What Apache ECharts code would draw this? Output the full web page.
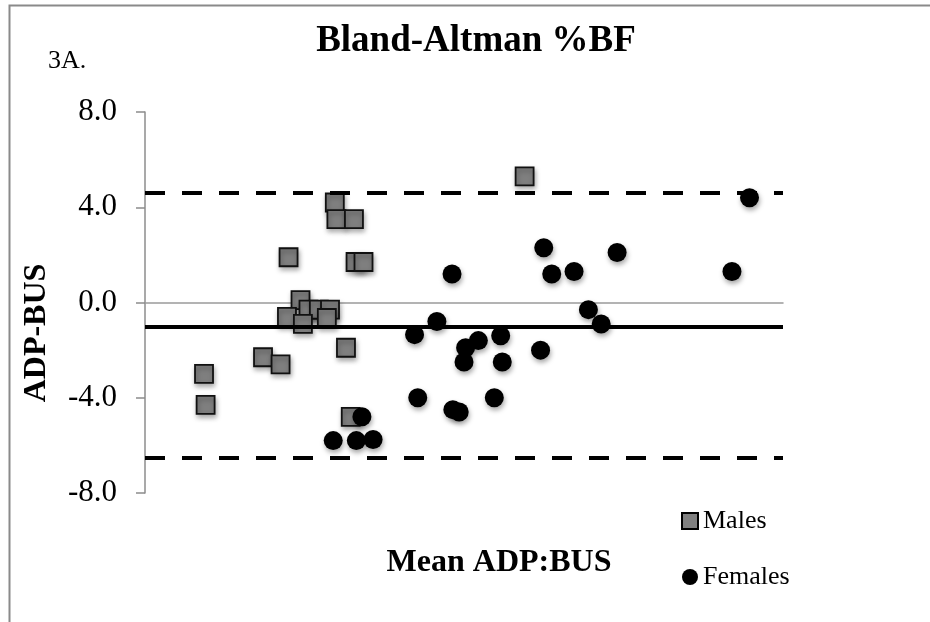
<!DOCTYPE html>
<html>
<head>
<meta charset="utf-8">
<script src="https://cdn.jsdelivr.net/npm/echarts@6/dist/echarts.min.js"></script>
<style>html,body{margin:0;padding:0;background:#fff}#c{width:930px;height:622px}</style>
</head>
<body>
<div id="c"></div>
<script>
// Mean ADP:BUS (x, arbitrary hidden scale) and ADP-BUS difference (y)
var malesX = [11.9, 12.0, 13.1, 9.0, 13.2, 13.7, 9.75, 8.9, 10.25, 10.9, 11.6, 11.4, 9.9, 12.6, 7.4, 8.5, 3.7, 3.8, 12.9, 23.8];
var malesY = [4.2, 3.5, 3.5, 1.9, 1.7, 1.7, 0.1, -0.6, -0.3, -0.3, -0.3, -0.65, -0.9, -1.9, -2.3, -2.6, -3.0, -4.3, -4.8, 5.3];
var femalesX = [37.9, 25.0, 29.6, 19.25, 25.5, 26.9, 36.8, 27.8, 18.3, 28.6, 16.9, 22.3, 20.9, 20.1, 20.0, 22.4, 24.8, 17.1, 19.3, 19.7, 21.9, 13.6, 11.8, 13.25, 14.3];
var femalesY = [4.4, 2.3, 2.1, 1.2, 1.2, 1.3, 1.3, -0.3, -0.8, -0.9, -1.35, -1.4, -1.6, -1.9, -2.5, -2.5, -2.0, -4.0, -4.5, -4.6, -4.0, -4.8, -5.8, -5.8, -5.75];
var meanDiff = -1.0;
var upperLoA = 4.6;
var lowerLoA = -6.5;
var yTicks = [-8, -4, 0, 4, 8];

function pairs(xs, ys) { return xs.map(function (x, i) { return [x, ys[i]]; }); }

var serif = '"Liberation Serif", "DejaVu Serif", serif';
var chart = echarts.init(document.getElementById('c'), null, { renderer: 'canvas' });
chart.setOption({
  animation: false,
  backgroundColor: '#fff',
  grid: { left: 145, right: 147, top: 112, bottom: 129, containLabel: false },
  xAxis: {
    type: 'value', min: 0, max: 40,
    axisLine: { show: true, onZero: true, lineStyle: { color: '#9a9a9a', width: 1.5 } },
    axisTick: { show: false }, axisLabel: { show: false }, splitLine: { show: false }
  },
  yAxis: {
    type: 'value', min: yTicks[0], max: yTicks[yTicks.length - 1], interval: 4,
    axisLine: { show: true, onZero: false, lineStyle: { color: '#8c8c8c', width: 1.5 } },
    axisTick: { show: true, inside: false, length: 9, lineStyle: { color: '#8c8c8c', width: 1.5 } },
    axisLabel: { margin: 28, color: '#000', fontFamily: serif, fontSize: 31, formatter: function (v) { return v.toFixed(1); } },
    splitLine: { show: false }
  },
  legend: {
    orient: 'vertical', left: 676, top: 503, itemWidth: 16, itemHeight: 16, itemGap: 30,
    textStyle: { fontFamily: serif, fontSize: 26, color: '#000' },
    data: [
      { name: 'Males', icon: 'rect', itemStyle: { color: '#7f7f7f', borderColor: '#000', borderWidth: 2, shadowBlur: 0 } },
      { name: 'Females', icon: 'circle', itemStyle: { color: '#000', shadowBlur: 0 } }
    ]
  },
  series: [
    {
      name: 'Males', type: 'scatter', symbol: 'rect', symbolSize: 18,
      data: pairs(malesX, malesY),
      itemStyle: { color: '#7f7f7f', borderColor: '#111', borderWidth: 1.8, opacity: 1, shadowBlur: 5, shadowColor: 'rgba(0,0,0,0.35)', shadowOffsetX: 1, shadowOffsetY: 3 },
      z: 3
    },
    {
      name: 'Females', type: 'scatter', symbol: 'circle', symbolSize: 19,
      data: pairs(femalesX, femalesY),
      itemStyle: { color: '#000', opacity: 1, shadowBlur: 5, shadowColor: 'rgba(0,0,0,0.35)', shadowOffsetX: 1, shadowOffsetY: 3 },
      z: 4,
      markLine: {
        silent: true, symbol: 'none', label: { show: false },
        data: [
          { yAxis: meanDiff, lineStyle: { type: 'solid', color: '#000', width: 4 } },
          { yAxis: upperLoA, lineStyle: { type: [20, 17], color: '#000', width: 4 } },
          { yAxis: lowerLoA, lineStyle: { type: [20, 17], color: '#000', width: 4 } }
        ]
      }
    }
  ],
  graphic: [
    { type: 'rect', left: 7, top: 3, shape: { width: 1000, height: 1000 }, style: { fill: 'none', stroke: '#8a8a8a', lineWidth: 2 }, silent: true, z: -1 },
    { type: 'text', x: 476, y: 41, style: { text: 'Bland-Altman %BF', fontFamily: serif, fontWeight: 'bold', fontSize: 37, fill: '#000', align: 'center', verticalAlign: 'middle' } },
    { type: 'text', x: 48, y: 61, style: { text: '3A.', fontFamily: serif, fontSize: 26, fill: '#000', align: 'left', verticalAlign: 'middle' } },
    { type: 'text', x: 37, y: 333, rotation: Math.PI / 2, style: { text: 'ADP-BUS', fontFamily: serif, fontWeight: 'bold', fontSize: 32, fill: '#000', align: 'center', verticalAlign: 'middle' } },
    { type: 'text', x: 499, y: 563, style: { text: 'Mean ADP:BUS', fontFamily: serif, fontWeight: 'bold', fontSize: 32, fill: '#000', align: 'center', verticalAlign: 'middle' } }
  ]
});
</script>
</body>
</html>
